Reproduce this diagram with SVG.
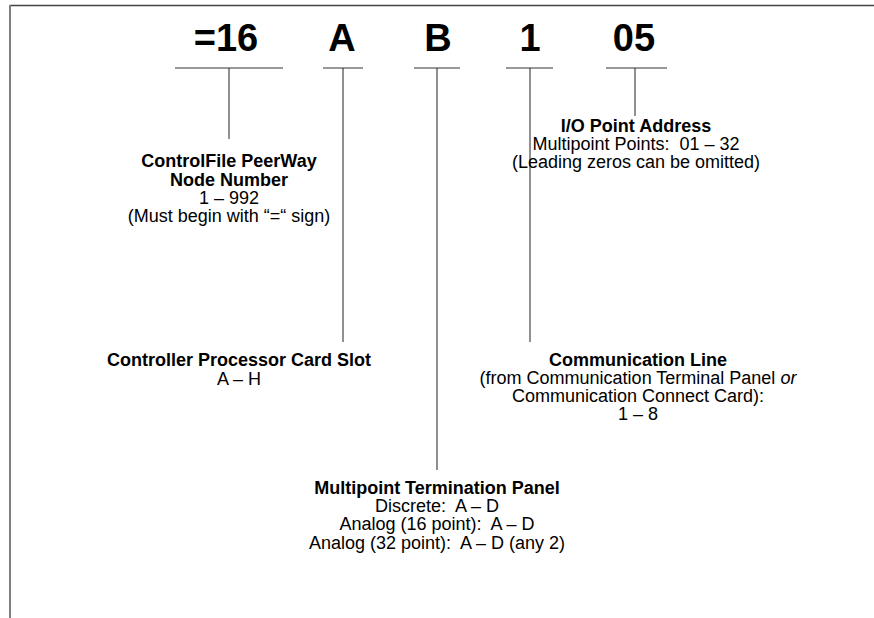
<svg xmlns="http://www.w3.org/2000/svg" width="874" height="618" viewBox="0 0 874 618">
<style>
text{font-family:"Liberation Sans",Arial,sans-serif;fill:#000;text-anchor:middle;white-space:pre}
.code{font-size:38px;font-weight:bold}
.h{font-size:18px;font-weight:bold}
.t{font-size:18px}
.ln{stroke:#222;stroke-width:1;fill:none}
.ul{stroke:#333;stroke-width:1.2;fill:none}
</style>
<rect width="874" height="618" fill="#fff"/>
<g id="frame">
<line x1="9.5" y1="5.5" x2="874" y2="5.5" stroke="#444" stroke-width="1.5"/>
<line x1="10" y1="5" x2="10" y2="618" stroke="#808080" stroke-width="2"/>
</g>
<g id="code-node"><text class="code" x="226" y="51">=16</text><line class="ul" x1="175" y1="68" x2="283" y2="68"/></g>
<g id="code-slot"><text class="code" x="342" y="51">A</text><line class="ul" x1="323" y1="68" x2="363" y2="68"/></g>
<g id="code-panel"><text class="code" x="438" y="51">B</text><line class="ul" x1="414" y1="68" x2="460" y2="68"/></g>
<g id="code-line"><text class="code" x="530" y="51">1</text><line class="ul" x1="506" y1="68" x2="553" y2="68"/></g>
<g id="code-point"><text class="code" x="634" y="51">05</text><line class="ul" x1="606" y1="68" x2="667" y2="68"/></g>
<g id="connectors">
<line class="ln" x1="229" y1="68" x2="229" y2="139"/>
<line class="ln" x1="343" y1="68" x2="343" y2="342"/>
<line class="ln" x1="437" y1="68" x2="437" y2="470"/>
<line class="ln" x1="530" y1="68" x2="530" y2="342"/>
<line class="ln" x1="635" y1="68" x2="635" y2="116"/>
</g>
<g id="node-number">
<text class="h" x="229" y="167">ControlFile PeerWay</text>
<text class="h" x="229" y="186">Node Number</text>
<text class="t" x="229" y="204">1 – 992</text>
<text class="t" x="229" y="222">(Must begin with “=“ sign)</text>
</g>
<g id="io-point">
<text class="h" x="636" y="132">I/O Point Address</text>
<text class="t" x="636" y="150">Multipoint Points:  01 – 32</text>
<text class="t" x="636" y="168">(Leading zeros can be omitted)</text>
</g>
<g id="card-slot">
<text class="h" x="239" y="366">Controller Processor Card Slot</text>
<text class="t" x="239" y="385">A – H</text>
</g>
<g id="comm-line">
<text class="h" x="638" y="366">Communication Line</text>
<text class="t" x="638" y="384">(from Communication Terminal Panel <tspan font-style="italic">or</tspan></text>
<text class="t" x="638" y="402">Communication Connect Card):</text>
<text class="t" x="638" y="420">1 – 8</text>
</g>
<g id="term-panel">
<text class="h" x="437" y="494">Multipoint Termination Panel</text>
<text class="t" x="437" y="512">Discrete:  A – D</text>
<text class="t" x="437" y="530">Analog (16 point):  A – D</text>
<text class="t" x="437" y="549">Analog (32 point):  A – D (any 2)</text>
</g>
</svg>
